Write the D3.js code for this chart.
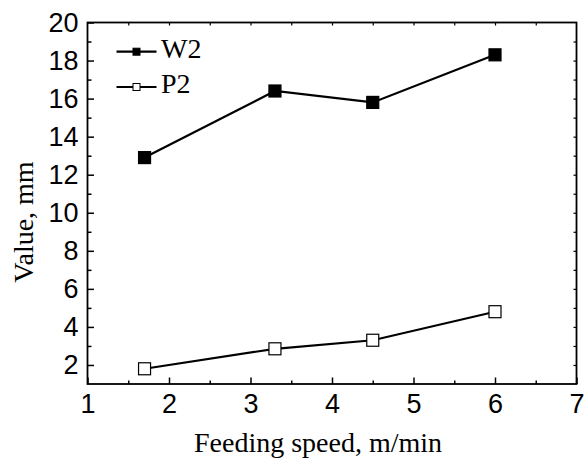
<!DOCTYPE html>
<html><head><meta charset="utf-8">
<script src="https://cdn.jsdelivr.net/npm/d3@7"></script>
<style>body{margin:0;background:#fff}svg{display:block}</style>
</head><body>
<svg id="c" width="585" height="460"></svg>
<script>
const speeds = [1.7, 3.3, 4.5, 6];
const w2 = [12.9, 16.4, 15.8, 18.3];
const p2 = [1.8, 2.85, 3.3, 4.8];
const seriesNames = ["W2", "P2"];
const xTicks = [1, 2, 3, 4, 5, 6, 7];
const yTicks = [2, 4, 6, 8, 10, 12, 14, 16, 18, 20];
const xTitle = "Feeding speed, m/min";
const yTitle = "Value, mm";

const svg = d3.select("#c");
const L = 87.5, R = 576.5, T = 22.5, B = 384;
const x = d3.scaleLinear().domain([1, 7]).range([L, R]);
const y = d3.scaleLinear().domain([1, 20]).range([B, T]);
const sans = "Liberation Sans, Arial, sans-serif";
const serif = "Liberation Serif, Times New Roman, serif";

const g = svg.append("g");
const xMinor = d3.range(1.5, 7, 1);
const yMinor = d3.range(3, 20, 2);
// bottom
g.append("g").attr("transform", `translate(0,${B})`)
  .call(d3.axisBottom(x).tickValues(xTicks).tickSize(-6.5).tickPadding(10).tickFormat(d3.format("d")))
  .call(a => { a.select(".domain").remove(); a.selectAll("line").attr("stroke-width", 1.5);
    a.selectAll("text").attr("font-family", sans).attr("font-size", 27).attr("fill", "#000"); });
g.append("g").attr("transform", `translate(0,${B})`)
  .call(d3.axisBottom(x).tickValues(xMinor).tickSize(-3.5).tickFormat(""))
  .call(a => { a.select(".domain").remove(); a.selectAll("line").attr("stroke-width", 1.5); });
// left
g.append("g").attr("transform", `translate(${L},0)`)
  .call(d3.axisLeft(y).tickValues(yTicks).tickSize(-6.5).tickPadding(9).tickFormat(d3.format("d")))
  .call(a => { a.select(".domain").remove(); a.selectAll("line").attr("stroke-width", 1.5);
    a.selectAll("text").attr("font-family", sans).attr("font-size", 27).attr("fill", "#000"); });
g.append("g").attr("transform", `translate(${L},0)`)
  .call(d3.axisLeft(y).tickValues(yMinor).tickSize(-4).tickFormat(""))
  .call(a => { a.select(".domain").remove(); a.selectAll("line").attr("stroke-width", 1.5); });
// top
g.append("g").attr("transform", `translate(0,${T})`)
  .call(d3.axisTop(x).tickValues(d3.range(1.5, 7, 0.5)).tickSize(-3).tickFormat(""))
  .call(a => { a.select(".domain").remove(); a.selectAll("line").attr("stroke-width", 1.2); });
// right
g.append("g").attr("transform", `translate(${R},0)`)
  .call(d3.axisRight(y).tickValues(d3.range(2, 20, 1)).tickSize(-3).tickFormat(""))
  .call(a => { a.select(".domain").remove(); a.selectAll("line").attr("stroke-width", 1.2); });

// frame
svg.append("rect").attr("x", L).attr("y", T).attr("width", R - L).attr("height", B - T)
  .attr("fill", "none").attr("stroke", "#000").attr("stroke-width", 1.8);

const line = d3.line().x((d, i) => x(speeds[i])).y(d => y(d));
const series = [{name: seriesNames[0], vals: w2, fill: "#000"}, {name: seriesNames[1], vals: p2, fill: "#fff"}];
series.forEach(s => {
  svg.append("path").attr("d", line(s.vals)).attr("fill", "none").attr("stroke", "#000").attr("stroke-width", 2.2);
  svg.selectAll(null).data(s.vals).enter().append("rect")
    .attr("x", (d, i) => x(speeds[i]) - 6).attr("y", d => y(d) - 6)
    .attr("width", 12).attr("height", 12)
    .attr("fill", s.fill).attr("stroke", "#000").attr("stroke-width", 1.2);
});

// legend
const legY = [51.7, 87];
series.forEach((s, i) => {
  const ly = legY[i];
  svg.append("line").attr("x1", 116.5).attr("x2", 156.5).attr("y1", ly).attr("y2", ly)
    .attr("stroke", "#000").attr("stroke-width", 2.2);
  svg.append("rect").attr("x", 136.5 - 3.5).attr("y", ly - 3.5).attr("width", 7).attr("height", 7)
    .attr("fill", s.fill).attr("stroke", "#000").attr("stroke-width", 1);
  svg.append("text").attr("x", 161).attr("y", ly + 5.8).text(s.name)
    .attr("font-family", serif).attr("font-size", 28).attr("fill", "#000");
});

// titles
svg.append("text").attr("x", 318).attr("y", 452).attr("text-anchor", "middle")
  .attr("font-family", serif).attr("font-size", 28).text(xTitle);
svg.append("text").attr("transform", "translate(33,222) rotate(-90)").attr("text-anchor", "middle")
  .attr("font-family", serif).attr("font-size", 28).text(yTitle);
</script>
</body></html>
